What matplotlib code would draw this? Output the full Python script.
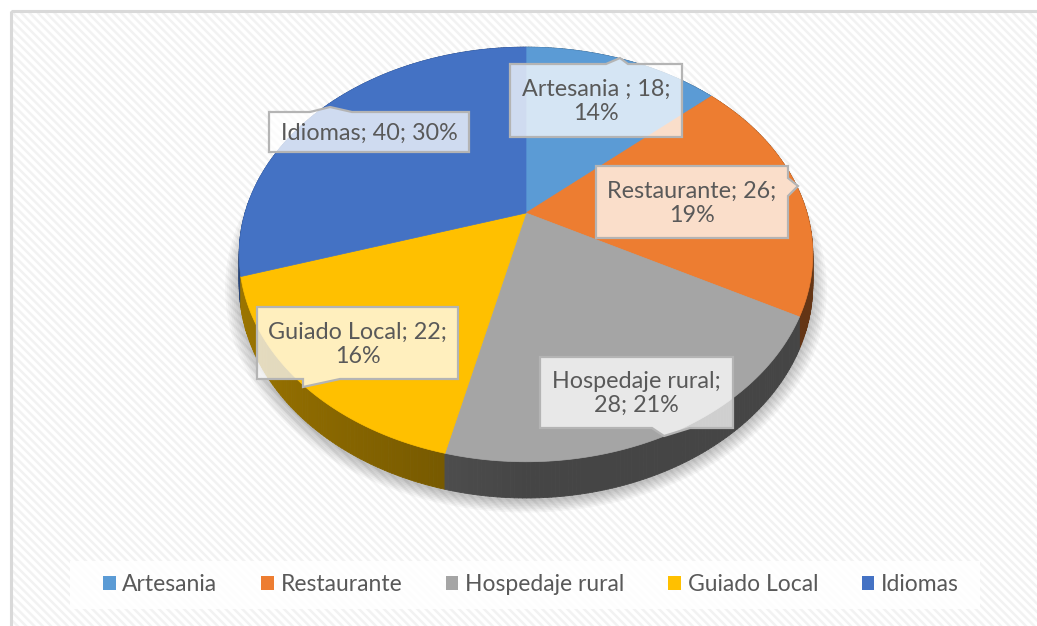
import numpy as np
import matplotlib
matplotlib.use("Agg")
import matplotlib.pyplot as plt
from matplotlib.patches import Polygon, Rectangle, Patch
from matplotlib.collections import PolyCollection

plt.rcParams["font.family"] = ["Lato", "DejaVu Sans"]
plt.rcParams["hatch.color"] = "#f2f2f2"
plt.rcParams["hatch.linewidth"] = 1.8

# data
categories = ["Artesania", "Restaurante", "Hospedaje rural", "Guiado Local", "Idiomas"]
values = [18, 26, 28, 22, 40]
pct_labels = ["14%", "19%", "21%", "16%", "30%"]
label_names = ["Artesania ", "Restaurante", "Hospedaje rural", "Guiado Local", "Idiomas"]
colors = ["#5b9bd5", "#ed7d31", "#a5a5a5", "#ffc000", "#4472c4"]

# pie geometry (pixel space, y down)
cx, cy = 526, 213
sx, sy = 281, 199
k = 0.2
depth = 29


def proj(theta, d=0.0):
    u = np.sin(theta)
    v = -np.cos(theta)
    w = 1 - k * v
    return cx + sx * u / w, cy + sy * v / w + d / w


fig = plt.figure(figsize=(10.37, 6.26), dpi=100)
ax = fig.add_axes([0, 0, 1, 1])
ax.set_xlim(0, 1037)
ax.set_ylim(626, 0)
ax.axis("off")

# background with light diagonal stripes
ax.add_patch(Rectangle((11, 11), 1040, 630, facecolor="white", edgecolor="#f2f2f2",
                       lw=0, hatch="\\\\\\\\", zorder=0))
ax.add_patch(Rectangle((11, 11), 1040, 630, facecolor="none", edgecolor="#d9d9d9",
                       lw=2.2, zorder=1))

total = sum(values)
bounds = np.concatenate([[0], np.cumsum(values)]) / total * 2 * np.pi

# soft shadow under the pie
tt = np.linspace(0, 2 * np.pi, 200)
bx, by = proj(tt, depth)
mx, my = bx.mean(), by.mean()
for i in range(8):
    s = 1 + 0.007 * i
    ax.add_patch(Polygon(np.column_stack([mx + (bx - mx) * s, my + (by - my) * s + 3]),
                         closed=True, facecolor="black", edgecolor="none",
                         alpha=0.03, zorder=2))

# sides
quads, qcols, qv = [], [], []
for i, c in enumerate(colors):
    base = np.array(matplotlib.colors.to_rgb(c))
    ts = np.linspace(bounds[i], bounds[i + 1], max(3, int(values[i] * 4)))
    for t0, t1 in zip(ts[:-1], ts[1:]):
        x0, y0 = proj(t0)
        x1, y1 = proj(t1)
        x2, y2 = proj(t1, depth)
        x3, y3 = proj(t0, depth)
        tm = (t0 + t1) / 2
        u = np.sin(tm)
        f = 0.42 + 0.2 * max(0.0, -u)
        quads.append([(x0, y0), (x1, y1), (x2, y2), (x3, y3)])
        qcols.append(tuple(base * f))
        qv.append(-np.cos(tm))
order = np.argsort(qv)
pc = PolyCollection([quads[j] for j in order], facecolors=[qcols[j] for j in order],
                    edgecolors=[qcols[j] for j in order], linewidths=0.6, zorder=3)
ax.add_collection(pc)

# top faces
for i, c in enumerate(colors):
    ts = np.linspace(bounds[i], bounds[i + 1], 80)
    xs, ys = proj(ts)
    pts = np.vstack([[cx, cy], np.column_stack([xs, ys])])
    ax.add_patch(Polygon(pts, closed=True, facecolor=c, edgecolor=c, lw=0.5, zorder=4))

# callouts: box (x0, y0, x1, y1), tab side, tab start/end, tip
callouts = [
    ((510, 64, 682, 137), "top", (606, 628), (620, 58)),
    ((596, 166, 788, 238), "right", (178, 196), (798, 186)),
    ((540, 357, 733, 428), "bottom", (652, 690), (664, 436)),
    ((257, 307, 458, 379), "bottom", (303, 340), (303, 387)),
    ((269, 112, 469, 152), "top", (310, 352), (330, 107)),
]
texts = []
for i in range(len(values)):
    head = f"{label_names[i]}; {values[i]};"
    if i == 2:
        texts.append(f"{label_names[i]};\n{values[i]}; {pct_labels[i]}")
    elif i == 4:
        texts.append(f"{head} {pct_labels[i]}")
    else:
        texts.append(f"{head}\n{pct_labels[i]}")

for (box, side, (a, b), tip), txt in zip(callouts, texts):
    x0, y0, x1, y1 = box
    if side == "top":
        pts = [(x0, y0), (a, y0), tip, (b, y0), (x1, y0), (x1, y1), (x0, y1)]
    elif side == "bottom":
        pts = [(x0, y0), (x1, y0), (x1, y1), (b, y1), tip, (a, y1), (x0, y1)]
    else:
        pts = [(x0, y0), (x1, y0), (x1, a), tip, (x1, b), (x1, y1), (x0, y1)]
    ax.add_patch(Polygon(pts, closed=True, facecolor=(1, 1, 1, 0.75),
                         edgecolor="#b4b4b4", lw=1.6, zorder=5))
    ax.text((x0 + x1) / 2, (y0 + y1) / 2 + 1, txt, ha="center", va="center",
            fontsize=16.8, color="#595959", linespacing=1.18, zorder=6)

# legend band
ax.add_patch(Rectangle((70, 561), 910, 48, facecolor="white", edgecolor="none",
                       alpha=0.85, zorder=1))
handles = [Patch(facecolor=c, edgecolor="none") for c in colors]
fig.legend(handles, categories, loc="center", bbox_to_anchor=(0.512, 0.0655), ncol=5,
           frameon=False, fontsize=16.5, handlelength=0.55, handleheight=0.55,
           handletextpad=0.3, columnspacing=1.9, labelcolor="#595959")

fig.savefig("out.png", dpi=100)
